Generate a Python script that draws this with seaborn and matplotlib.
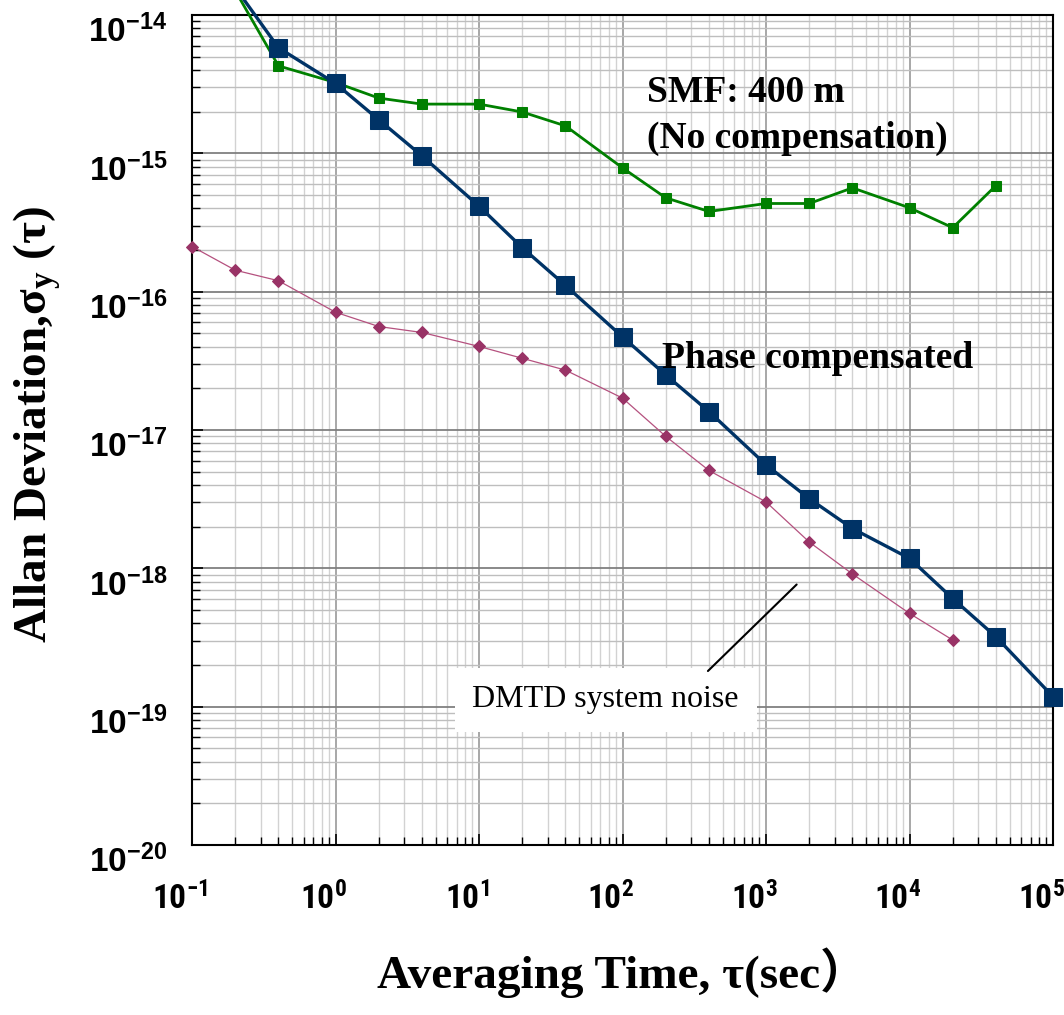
import matplotlib
matplotlib.use("Agg")
import numpy as np
import pandas as pd
import seaborn as sns
import matplotlib.pyplot as plt
from matplotlib import font_manager as fm
from matplotlib import transforms as mtransforms
from matplotlib.ticker import LogLocator, NullFormatter, FixedLocator

# ---------------- data ----------------
tau_comp = [0.2, 0.4, 1, 2, 4, 10, 20, 40, 100, 200, 400, 1000, 2000, 4000, 1e4, 2e4, 4e4, 1e5]
adev_comp = [1.58e-14, 5.8e-15, 3.2e-15, 1.75e-15, 9.6e-16, 4.15e-16, 2.08e-16, 1.11e-16,
             4.71e-17, 2.5e-17, 1.36e-17, 5.6e-18, 3.19e-18, 1.94e-18, 1.18e-18, 6.05e-19,
             3.2e-19, 1.18e-19]

tau_smf = [0.2, 0.4, 1, 2, 4, 10, 20, 40, 100, 200, 400, 1000, 2000, 4000, 1e4, 2e4, 4e4]
adev_smf = [1.5e-14, 4.29e-15, 3.25e-15, 2.51e-15, 2.27e-15, 2.27e-15, 1.99e-15, 1.58e-15,
            7.85e-16, 4.77e-16, 3.8e-16, 4.34e-16, 4.34e-16, 5.63e-16, 4.04e-16, 2.9e-16,
            5.85e-16]

tau_dmtd = [0.1, 0.2, 0.4, 1, 2, 4, 10, 20, 40, 100, 200, 400, 1000, 2000, 4000, 1e4, 2e4]
adev_dmtd = [2.12e-16, 1.43e-16, 1.2e-16, 7.1e-17, 5.6e-17, 5.07e-17, 4.02e-17, 3.3e-17,
             2.71e-17, 1.70e-17, 9.0e-18, 5.1e-18, 3.02e-18, 1.55e-18, 9.1e-19, 4.72e-19,
             3.03e-19]

x_ticks = [1e-1, 1e0, 1e1, 1e2, 1e3, 1e4, 1e5]
y_ticks = [1e-20, 1e-19, 1e-18, 1e-17, 1e-16, 1e-15, 1e-14]

label_smf_1 = "SMF: 400 m"
label_smf_2 = "(No compensation)"
label_comp = "Phase compensated"
label_dmtd = "DMTD system noise"

# ---------------- style ----------------
sns.set_style("white")
plt.rcParams["font.family"] = ["Liberation Sans", "DejaVu Sans"]
plt.rcParams["font.weight"] = "bold"
plt.rcParams["axes.linewidth"] = 1.5
for key in ["text.color", "axes.labelcolor", "xtick.color", "ytick.color", "axes.edgecolor"]:
    plt.rcParams[key] = "black"

# look for a bold condensed sans face for the x tick labels
def find_condensed_bold():
    prefs = ["Liberation Sans Narrow", "Roboto Condensed", "Open Sans Condensed",
             "Noto Sans", "Roboto", "Open Sans", "DejaVu Sans", "Lato", "Inter"]
    cands = []
    for f in fm.fontManager.ttflist:
        narrow = ("condensed" in str(f.stretch)) or ("Narrow" in f.name) or ("Condensed" in f.name)
        try:
            w = int(f.weight)
        except (TypeError, ValueError):
            w = 700 if "bold" in str(f.weight) else 400
        if narrow and w >= 600 and f.style == "normal" and "extra" not in str(f.stretch) \
                and "ultra" not in str(f.stretch):
            base = f.name
            rank = prefs.index(base) if base in prefs else len(prefs)
            cands.append((rank, abs(w - 700), f.fname))
    if cands:
        cands.sort()
        return cands[0][2]
    return None

cond_file = find_condensed_bold()
if cond_file is not None:
    xtick_fp = fm.FontProperties(fname=cond_file, size=24)
    xshift = -12
else:
    xtick_fp = fm.FontProperties(family="Liberation Sans", weight="bold", size=21)
    xshift = -15
serif = "Liberation Serif"

NAVY = "#003366"
GREEN = "#008000"
MAGENTA = "#993366"

fig = plt.figure(figsize=(10.64, 10.15), dpi=100)
ax = fig.add_axes([0.1805, 0.1675, 0.8092, 0.8177])
ax.set_xscale("log")
ax.set_yscale("log")

df_dmtd = pd.DataFrame({"tau": tau_dmtd, "adev": adev_dmtd})
df_smf = pd.DataFrame({"tau": tau_smf, "adev": adev_smf})
df_comp = pd.DataFrame({"tau": tau_comp, "adev": adev_comp})

sns.lineplot(data=df_dmtd, x="tau", y="adev", ax=ax, color="#B5517F", lw=0.9,
             marker="D", markersize=6, markerfacecolor=MAGENTA, markeredgecolor=MAGENTA,
             estimator=None, clip_on=False, zorder=3)
sns.lineplot(data=df_smf, x="tau", y="adev", ax=ax, color=GREEN, lw=2.0,
             marker="s", markersize=7, markerfacecolor=GREEN, markeredgecolor=GREEN,
             estimator=None, clip_on=False, zorder=4)
sns.lineplot(data=df_comp, x="tau", y="adev", ax=ax, color=NAVY, lw=2.4,
             marker="s", markersize=13, markerfacecolor=NAVY, markeredgecolor=NAVY,
             estimator=None, clip_on=False, zorder=5)

ax.set_xlim(1e-1, 1e5)
ax.set_ylim(1e-20, 1e-14)

# grid
ax.set_axisbelow(True)
ax.xaxis.set_minor_locator(LogLocator(base=10, subs=np.arange(2, 10), numticks=50))
ax.yaxis.set_minor_locator(LogLocator(base=10, subs=np.arange(2, 10), numticks=50))
ax.xaxis.set_minor_formatter(NullFormatter())
ax.yaxis.set_minor_formatter(NullFormatter())
ax.xaxis.set_major_locator(FixedLocator(x_ticks))
ax.yaxis.set_major_locator(FixedLocator(y_ticks))
ax.xaxis.grid(True, which="major", color="#A0A0A0", lw=1.3)
ax.yaxis.grid(True, which="major", color="#808080", lw=1.3)
ax.xaxis.grid(True, which="minor", color="#D2D2D2", lw=1.0)
ax.yaxis.grid(True, which="minor", color="#BEBEBE", lw=1.0)

for s in ax.spines.values():
    s.set_color("black")
    s.set_linewidth(1.5)

ax.tick_params(axis="both", which="both", direction="in", left=True, bottom=True,
               top=False, right=False, colors="black")
ax.tick_params(which="major", length=8, width=1.2)
ax.tick_params(which="minor", length=6, width=1.0)
ax.tick_params(axis="x", which="major", pad=27)
ax.tick_params(axis="y", which="major", labelsize=24, pad=18,
               labelfontfamily="Liberation Sans")
for t in ax.yaxis.get_major_ticks():
    t.label1.set_verticalalignment("top")
    t.label1.set_fontweight("bold")
    t.label1.set_color("black")
xoff = mtransforms.ScaledTranslation(xshift / 100.0, 0, fig.dpi_scale_trans)
for t in ax.xaxis.get_major_ticks():
    t.label1.set_fontproperties(xtick_fp)
    t.label1.set_color("black")
    t.label1.set_transform(t.label1.get_transform() + xoff)

ax.set_xlabel("Averaging Time, τ(sec）", fontsize=34, fontweight="bold",
              family=[serif, "Noto Sans CJK JP"], color="black")
ax.xaxis.set_label_coords(0.5, -0.123)
ax.set_ylabel("Allan Deviation,σ$_\\mathregular{y}$ (τ)", fontsize=34, fontweight="bold",
              family=serif, color="black")
ax.yaxis.set_label_coords(-0.150, 0.507)

# annotations
ax.text(147.6, 2.37e-15, label_smf_1, fontsize=27, fontweight="bold", family=serif,
        ha="left", va="baseline", zorder=6, color="black")
ax.text(147.6, 1.10e-15, label_smf_2, fontsize=27, fontweight="bold", family=serif,
        ha="left", va="baseline", zorder=6, color="black")
ax.text(187.6, 2.79e-17, label_comp, fontsize=27, fontweight="bold", family=serif,
        ha="left", va="baseline", zorder=6, color="black")
ax.text(9.0, 9.9e-20, label_dmtd, fontsize=23, fontweight="normal", family=serif,
        ha="left", va="baseline", zorder=6, color="black",
        bbox=dict(boxstyle="square,pad=0.55", fc="white", ec="none"))
ax.annotate("", xy=(1634, 7.64e-19), xytext=(393.6, 1.81e-19),
            arrowprops=dict(arrowstyle="-", color="black", lw=1.5, shrinkA=0, shrinkB=0),
            zorder=7)

fig.savefig("out.png", dpi=100, facecolor="white")
